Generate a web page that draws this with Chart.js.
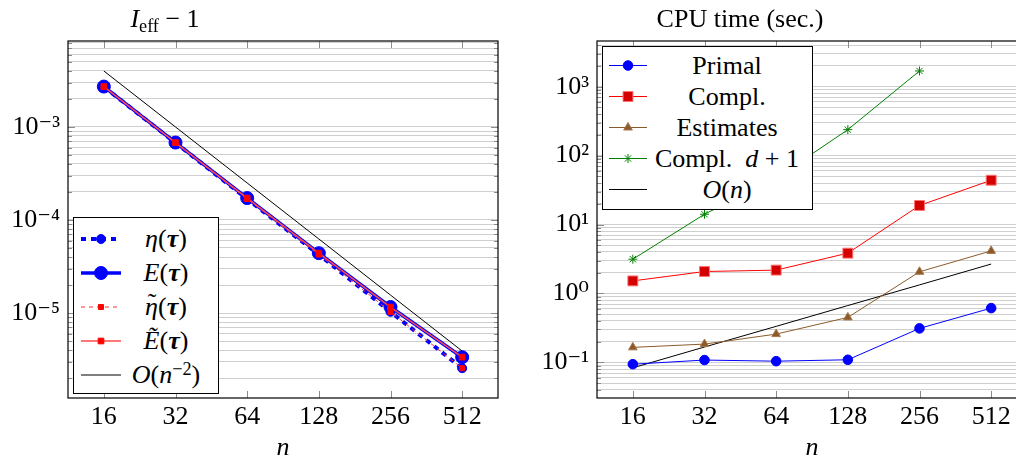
<!DOCTYPE html>
<html lang="en">
<head>
<meta charset="UTF-8" />
<title>Effectivity index and CPU time</title>
<style>
  body {
    margin: 0;
    background: #fff;
    width: 1016px;
    height: 456px;
    overflow: hidden;
    position: relative;
    font-family: "Liberation Serif", "DejaVu Serif", serif;
    color: #000;
  }
  canvas.plot { position: absolute; top: 0; }
  .title {
    position: absolute;
    top: 6px;
    width: 240px;
    text-align: center;
    font-size: 26px;
    line-height: 26px;
    white-space: nowrap;
  }
  .title sub { font-size: 0.7em; vertical-align: -0.25em; line-height: 0; }
  .legend {
    position: absolute;
    background: #fff;
    border: 1px solid #000;
    box-sizing: border-box;
  }
  .legend .row { position: relative; }
  .legend canvas { position: absolute; top: 0; }
  .legend .txt {
    position: absolute;
    top: 0;
    text-align: center;
    font-size: 26px;
    white-space: nowrap;
  }
  .legend sup { font-size: 0.7em; vertical-align: 0.45em; line-height: 0; }
  .tl { position: relative; }
  .tl .tilde { position: absolute; left: 0.1em; top: -0.22em; font-style: normal; }
</style>
</head>
<body>

<canvas class="plot" id="leftChart" width="518" height="456" style="left:0"></canvas>
<canvas class="plot" id="rightChart" width="537" height="456" style="left:510px"></canvas>

<div class="title" style="left:45px"><i>I</i><sub>eff</sub> − 1</div>
<div class="title" style="left:620px">CPU time (sec.)</div>

<div class="legend" id="leftLegend" style="left:73px; top:217px; width:146px; height:177px; padding-top:4px"></div>
<div class="legend" id="rightLegend" style="left:602px; top:46px; width:211px; height:164px; padding-top:3px"></div>

<script src="https://cdn.jsdelivr.net/npm/chart.js"></script>
<script>
  // mesh size n (x axis, both panels)
  const nValues = [16, 32, 64, 128, 256, 512];

  // left panel: I_eff - 1
  const etaVals      = [2.70e-3, 6.75e-4, 1.68e-4, 4.25e-5, 1.03e-5, 2.55e-6];
  const eVals        = [2.72e-3, 6.80e-4, 1.72e-4, 4.40e-5, 1.16e-5, 3.35e-6];
  const etaTildeVals = [2.70e-3, 6.75e-4, 1.68e-4, 4.25e-5, 1.03e-5, 2.55e-6];
  const eTildeVals   = [2.72e-3, 6.80e-4, 1.72e-4, 4.40e-5, 1.16e-5, 3.35e-6];
  const refN2Vals    = [4.0e-3, 1.0e-3, 2.5e-4, 6.25e-5, 1.56e-5, 3.9e-6];

  // right panel: CPU time (sec.)
  const primalVals    = [0.094, 0.108, 0.104, 0.109, 0.311, 0.612];
  const complVals     = [1.52, 2.08, 2.18, 3.84, 18.9, 43.9];
  const estimateVals  = [0.165, 0.184, 0.257, 0.449, 2.06, 4.14];
  const complD1Vals   = [3.14, 14.1, 47, 238, 1690, null];
  const refNVals      = [0.0833, 0.167, 0.333, 0.667, 1.33, 2.67];

  // legend texts
  const leftLegendHtml = [
    '<i>η</i>(<b><i>τ</i></b>)',
    '<i>E</i>(<b><i>τ</i></b>)',
    '<i class="tl">η<span class="tilde">˜</span></i>(<b><i>τ</i></b>)',
    '<i>Ẽ</i>(<b><i>τ</i></b>)',
    '<i>O</i>(<i>n</i><sup>−2</sup>)'
  ];
  const rightLegendHtml = [
    'Primal',
    'Compl.',
    'Estimates',
    'Compl. &nbsp;<i>d</i> + 1',
    '<i>O</i>(<i>n</i>)'
  ];

  const FONT = '"Liberation Serif", "DejaVu Serif", serif';
  const SUP = {'-': '⁻', '0': '⁰', '1': '¹', '2': '²', '3': '³', '4': '⁴', '5': '⁵', '6': '⁶', '7': '⁷', '8': '⁸', '9': '⁹'};

  function pts(vals) {
    return nValues.map((n, i) => ({ x: n, y: vals[i] })).filter(p => p.y !== null);
  }

  function powLabel(v) {
    const e = Math.round(Math.log10(v));
    return '10' + String(e).split('').map(c => SUP[c]).join('');
  }

  function logTicks(min, max) {
    const out = [];
    for (let k = Math.floor(Math.log10(min)); k <= Math.ceil(Math.log10(max)); k++) {
      for (let m = 1; m <= 9; m++) {
        const v = m * Math.pow(10, k);
        if (v >= min && v <= max) out.push({ value: v, major: m === 1 });
      }
    }
    return out;
  }

  // tick marks inside the axis box, and the box itself
  const framePlugin = {
    id: 'frame',
    beforeDatasetsDraw(chart) {
      const { ctx, chartArea: a, scales } = chart;
      ctx.save();
      ctx.strokeStyle = '#8c8c8c';
      ctx.lineWidth = 1;
      ctx.beginPath();
      scales.y.ticks.forEach(t => {
        const y = Math.round(scales.y.getPixelForValue(t.value)) + 0.5;
        const len = t.major ? 7 : 4;
        ctx.moveTo(a.left, y); ctx.lineTo(a.left + len, y);
        ctx.moveTo(a.right, y); ctx.lineTo(a.right - len, y);
      });
      scales.x.ticks.forEach(t => {
        const x = Math.round(scales.x.getPixelForValue(t.value)) + 0.5;
        ctx.moveTo(x, a.top); ctx.lineTo(x, a.top + 7);
        ctx.moveTo(x, a.bottom); ctx.lineTo(x, a.bottom - 7);
      });
      ctx.stroke();
      ctx.restore();
    },
    afterDraw(chart) {
      const { ctx, chartArea: a } = chart;
      ctx.save();
      ctx.strokeStyle = '#000';
      ctx.lineWidth = 1.2;
      ctx.strokeRect(a.left, a.top, a.right - a.left, a.bottom - a.top);
      ctx.restore();
    }
  };

  function makeOptions(yMin, yMax, yWidth) {
    return {
      responsive: false,
      animation: false,
      devicePixelRatio: 1,
      layout: { padding: { left: 0, top: 41, right: 20, bottom: 0 } },
      plugins: { legend: { display: false }, tooltip: { enabled: false } },
      scales: {
        x: {
          type: 'logarithmic',
          min: 16 / Math.SQRT2,
          max: 512 * Math.SQRT2,
          afterBuildTicks: s => { s.ticks = nValues.map(v => ({ value: v, major: true })); },
          afterFit: s => { s.height = 58; },
          grid: { display: false },
          border: { display: false },
          ticks: {
            autoSkip: false, maxRotation: 0, minRotation: 0, padding: -4,
            color: '#000', font: { family: FONT, size: 26 },
            callback: v => String(v)
          },
          title: {
            display: true, text: 'n', color: '#000',
            font: { family: FONT, size: 26, style: 'italic', lineHeight: 0.6 },
            padding: { top: 0, bottom: 0 }
          }
        },
        y: {
          type: 'logarithmic',
          min: yMin,
          max: yMax,
          afterBuildTicks: s => { s.ticks = logTicks(yMin, yMax); },
          afterFit: s => { s.width = yWidth; },
          grid: { color: '#cfcfcf', lineWidth: 1, drawTicks: false },
          border: { display: false },
          ticks: {
            autoSkip: false, padding: 8,
            color: '#000', font: { family: FONT, size: 26 },
            callback: (v, i, ticks) => ticks[i].major ? powLabel(v) : ''
          }
        }
      }
    };
  }

  const leftDatasets = [
    { label: 'eta', data: pts(etaVals), order: 5,
      borderColor: '#0000ff', borderWidth: 4, borderDash: [5, 5],
      pointStyle: 'circle', pointRadius: 4.5, pointBackgroundColor: '#0000ff', pointBorderColor: '#0000ff', pointBorderWidth: 1 },
    { label: 'E', data: pts(eVals), order: 4,
      borderColor: '#0000ff', borderWidth: 3.5,
      pointStyle: 'circle', pointRadius: 6.5, pointBackgroundColor: '#0000ff', pointBorderColor: '#0000ff', pointBorderWidth: 1 },
    { label: 'eta tilde', data: pts(etaTildeVals), order: 3,
      borderColor: '#ff3030', borderWidth: 1, borderDash: [4, 4],
      pointStyle: 'rect', pointRadius: 3.5, pointBackgroundColor: '#ff0000', pointBorderColor: '#ff0000', pointBorderWidth: 1 },
    { label: 'E tilde', data: pts(eTildeVals), order: 2,
      borderColor: '#ff4a4a', borderWidth: 1.5,
      pointStyle: 'rect', pointRadius: 4, pointBackgroundColor: '#ff0000', pointBorderColor: '#ff0000', pointBorderWidth: 1 },
    { label: 'O(n^-2)', data: pts(refN2Vals), order: 1,
      borderColor: '#000', borderWidth: 1, pointRadius: 0 }
  ];

  const rightDatasets = [
    { label: 'Primal', data: pts(primalVals),
      borderColor: '#0000ff', borderWidth: 1,
      pointStyle: 'circle', pointRadius: 4.8, pointBackgroundColor: '#0000ff', pointBorderColor: '#0000ff', pointBorderWidth: 1 },
    { label: 'Compl.', data: pts(complVals),
      borderColor: '#ff0000', borderWidth: 1,
      pointStyle: 'rect', pointRadius: 7, pointBackgroundColor: '#d40000', pointBorderColor: '#ff7070', pointBorderWidth: 1 },
    { label: 'Estimates', data: pts(estimateVals),
      borderColor: '#8b5a2b', borderWidth: 1,
      pointStyle: 'triangle', pointRadius: 5, pointBackgroundColor: '#8b5a2b', pointBorderColor: '#a8784a', pointBorderWidth: 1 },
    { label: 'Compl. d+1', data: pts(complD1Vals),
      borderColor: '#008000', borderWidth: 1,
      pointStyle: 'star', pointRadius: 4.5, pointBackgroundColor: '#008000', pointBorderColor: '#008000', pointBorderWidth: 1 },
    { label: 'O(n)', data: pts(refNVals),
      borderColor: '#000', borderWidth: 1, pointRadius: 0 }
  ];

  new Chart(document.getElementById('leftChart'), {
    type: 'line',
    data: { datasets: leftDatasets },
    options: makeOptions(1.22e-6, 8.4e-3, 68),
    plugins: [framePlugin]
  });

  new Chart(document.getElementById('rightChart'), {
    type: 'line',
    data: { datasets: rightDatasets },
    options: makeOptions(0.0304, 4600, 87),
    plugins: [framePlugin]
  });

  // legend boxes (HTML text, canvas samples)
  function drawSample(cv, ds) {
    const c = cv.getContext('2d');
    const y = cv.height / 2;
    c.strokeStyle = ds.borderColor;
    c.lineWidth = ds.borderWidth;
    c.setLineDash(ds.borderDash || []);
    c.beginPath(); c.moveTo(1, y); c.lineTo(cv.width - 1, y); c.stroke();
    c.setLineDash([]);
    if (ds.pointRadius > 0) {
      c.fillStyle = ds.pointBackgroundColor;
      c.strokeStyle = ds.pointBorderColor;
      c.lineWidth = ds.pointBorderWidth;
      Chart.helpers.drawPoint(c, { pointStyle: ds.pointStyle, radius: ds.pointRadius, rotation: 0, borderWidth: ds.pointBorderWidth }, cv.width / 2, y);
    }
  }

  function buildLegend(el, datasets, html, rowH, sampleX, sampleW, textL, textR) {
    datasets.forEach((ds, i) => {
      const row = document.createElement('div');
      row.className = 'row';
      row.style.height = rowH + 'px';
      const cv = document.createElement('canvas');
      cv.width = sampleW; cv.height = rowH;
      cv.style.left = sampleX + 'px';
      row.appendChild(cv);
      const t = document.createElement('div');
      t.className = 'txt';
      t.style.left = textL + 'px';
      t.style.right = textR + 'px';
      t.style.lineHeight = rowH + 'px';
      t.innerHTML = html[i];
      row.appendChild(t);
      el.appendChild(row);
      drawSample(cv, ds);
    });
  }

  buildLegend(document.getElementById('leftLegend'), leftDatasets, leftLegendHtml, 34, 6, 42, 48, 8);
  buildLegend(document.getElementById('rightLegend'), rightDatasets, rightLegendHtml, 31, 5, 40, 46, 7);
</script>
</body>
</html>
